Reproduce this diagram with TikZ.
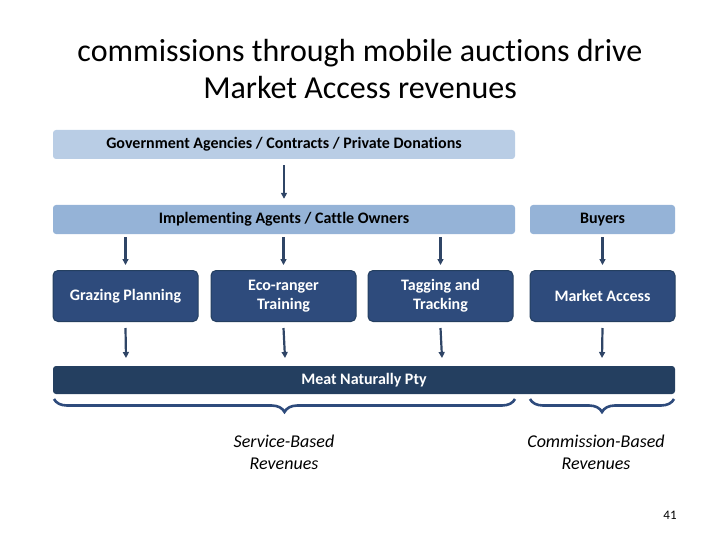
\documentclass[tikz,border=0pt]{standalone}
\usepackage{fontspec}
\setmainfont{Carlito}[Ligatures=NoCommon]
\usetikzlibrary{arrows.meta,decorations.pathreplacing}
\definecolor{lightb}{HTML}{B9CDE5}
\definecolor{midb}{HTML}{95B3D7}
\definecolor{darkb}{HTML}{2E4B7C}
\definecolor{navy}{HTML}{243F60}
\definecolor{arr}{HTML}{2F4566}
\begin{document}
\begin{tikzpicture}[x=1pt,y=-1pt,
  bar/.style={rounded corners=3pt,inner sep=0pt,font=\fontsize{16}{18}\selectfont\bfseries},
  small/.style={rounded corners=5pt,fill=darkb,draw=navy,line width=1pt,text=white,align=center,inner sep=0pt,minimum width=145pt,minimum height=51pt,font=\fontsize{16}{19}\selectfont\bfseries},
  ar/.style={-{Triangle[length=6pt,width=6pt]},line width=2.2pt,draw=arr},
  brace/.style={decorate,decoration={brace,amplitude=13pt,mirror},line width=2.6pt,draw=darkb},
  lab/.style={align=center,font=\fontsize{18}{22}\selectfont\itshape}]
\useasboundingbox (0,0) rectangle (720,540);
\node[font=\fontsize{32}{37}\selectfont,align=center] (title) at (360,69) {commissions through mobile auctions drive\\Market Access revenues};
\node[bar,fill=lightb,minimum width=462pt,minimum height=29pt] (gov) at (284,144.5) {Government Agencies / Contracts / Private Donations};
\node[bar,fill=midb,minimum width=462pt,minimum height=29pt] (impl) at (284,219.5) {Implementing Agents / Cattle Owners};
\node[bar,fill=midb,minimum width=145pt,minimum height=29pt] (buy) at (602.5,219.5) {Buyers};
\node[small] (graz) at (125.5,296) {Grazing Planning};
\node[small] (eco) at (283.5,296) {Eco-ranger\\Training};
\node[small] (tag) at (440.5,296) {Tagging and\\Tracking};
\node[small] (mkt) at (602.5,296) {Market Access};
\node[bar,fill=navy,text=white,minimum width=622pt,minimum height=28pt] (meat) at (364,380) {Meat Naturally Pty};
\coordinate (m1) at (126,366); \coordinate (m2) at (285,366);
\coordinate (m3) at (442,366); \coordinate (m4) at (602,366);
\draw[ar] ([yshift=-6pt]gov.south) -- ([yshift=6pt]impl.north);
\draw[ar] ([yshift=-3]impl.south -| graz) -- ([yshift=5]graz.north);
\draw[ar] ([yshift=-3]impl.south -| eco) -- ([yshift=5]eco.north);
\draw[ar] ([yshift=-3]impl.south -| tag) -- ([yshift=5]tag.north);
\draw[ar] ([yshift=-3]buy.south) -- ([yshift=5]mkt.north);
\draw[ar] ([yshift=-6]graz.south) -- ([yshift=8]m1);
\draw[ar] ([yshift=-6]eco.south) -- ([yshift=8]m2);
\draw[ar] ([yshift=-6]tag.south) -- ([yshift=8]m3);
\draw[ar] ([yshift=-6]mkt.south) -- ([yshift=8]m4);
\coordinate (b1) at (54,399); \coordinate (b2) at (515,399);
\coordinate (b3) at (530,399); \coordinate (b4) at (674,399);
\draw[brace] (b1) -- (b2);
\draw[brace] (b3) -- (b4);
\node[lab] (svc) at (284,452) {Service-Based\\Revenues};
\node[lab] (com) at (596,452) {Commission-Based\\Revenues};
\node[font=\fontsize{13}{15}\selectfont] (pg) at (670,515) {41};
\end{tikzpicture}
\end{document}
